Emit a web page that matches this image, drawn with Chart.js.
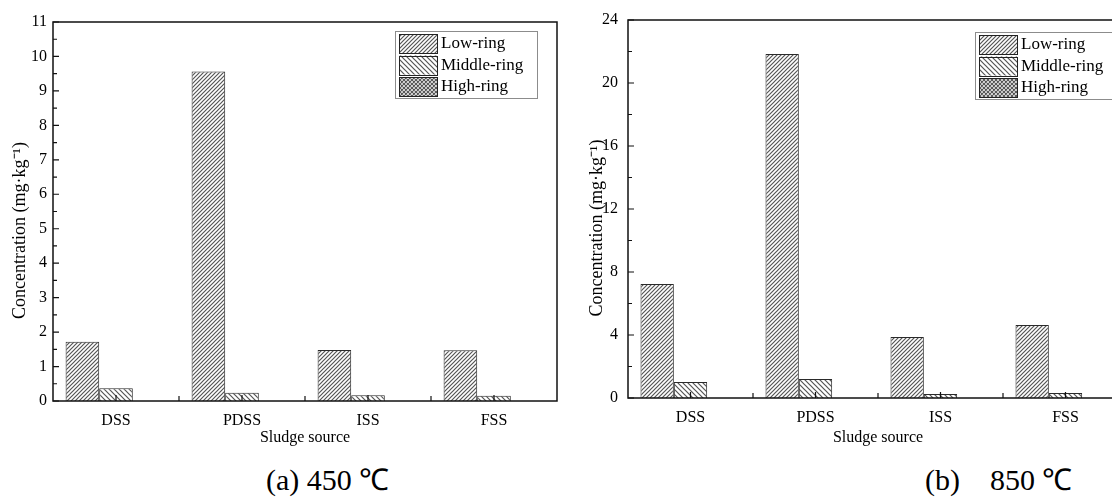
<!DOCTYPE html>
<html>
<head>
<meta charset="utf-8">
<script src="https://cdn.jsdelivr.net/npm/chart.js@4.4.1/dist/chart.umd.min.js"></script>
<style>
  html, body { margin: 0; padding: 0; background: #fff; width: 1112px; height: 500px; overflow: hidden; }
  #wrap { position: relative; width: 1112px; height: 500px; overflow: hidden; }
  canvas { position: absolute; top: 0; }
  #c450 { left: 0; }
  #c850 { left: 560px; }
  .cap { position: absolute; top: 458px; font-family: "Liberation Serif", serif; font-size: 30px; white-space: pre; color: #000; }
</style>
</head>
<body>
<div id="wrap">
  <canvas id="c450" width="560" height="450"></canvas>
  <canvas id="c850" width="570" height="450"></canvas>
  <div class="cap" style="left:266px">(a) 450 ℃</div>
  <div class="cap" style="left:925px">(b)    850 ℃</div>
</div>
<script>
// data
var sources = ['DSS', 'PDSS', 'ISS', 'FSS'];
var ringNames = ['Low-ring', 'Middle-ring', 'High-ring'];

var low450 = [1.72, 9.56, 1.48, 1.47];
var middle450 = [0.37, 0.24, 0.17, 0.15];
var high450 = [0, 0, 0, 0];
var yTicks450 = [0, 1, 2, 3, 4, 5, 6, 7, 8, 9, 10, 11];

var low850 = [7.24, 21.84, 3.87, 4.63];
var middle850 = [1.02, 1.20, 0.25, 0.32];
var high850 = [0, 0, 0, 0];
var yTicks850 = [0, 4, 8, 12, 16, 20, 24];

var yTitle = 'Concentration (mg·kg⁻¹)';
var xTitle = 'Sludge source';
var serif = '"Liberation Serif", "Times New Roman", serif';

// hatch fills
function hatch(step, dir) {
  var c = document.createElement('canvas');
  c.width = step; c.height = step;
  var g = c.getContext('2d');
  g.fillStyle = '#fff';
  g.fillRect(0, 0, step, step);
  g.strokeStyle = '#555';
  g.lineWidth = 1.2;
  g.beginPath();
  if (dir === '/' || dir === 'x') {
    g.moveTo(-1, step + 1); g.lineTo(step + 1, -1);
    g.moveTo(-1, 1); g.lineTo(1, -1);
    g.moveTo(step - 1, step + 1); g.lineTo(step + 1, step - 1);
  }
  if (dir === '\\' || dir === 'x') {
    g.moveTo(-1, -1); g.lineTo(step + 1, step + 1);
    g.moveTo(step - 1, -1); g.lineTo(step + 1, 1);
    g.moveTo(-1, step - 1); g.lineTo(1, step + 1);
  }
  g.stroke();
  return g.createPattern(c, 'repeat');
}
var fills = [hatch(4, '/'), hatch(5, '\\'), hatch(4, 'x')];

// box, inward ticks and the y title like the original plot
var framePlugin = {
  id: 'frame',
  afterDatasetsDraw: function (chart, args, opts) {
    var a = chart.chartArea, ctx = chart.ctx;
    var y = chart.scales.y, x = chart.scales.x;
    ctx.save();
    ctx.strokeStyle = '#111';
    ctx.lineWidth = 1.5;
    ctx.strokeRect(a.left, a.top, a.right - a.left, a.bottom - a.top);
    ctx.lineWidth = 1.2;
    ctx.beginPath();
    y.ticks.forEach(function (t, i) {
      var py = y.getPixelForValue(t.value);
      ctx.moveTo(a.left, py); ctx.lineTo(a.left + 6, py);
      if (i < y.ticks.length - 1) {
        var pm = y.getPixelForValue((t.value + y.ticks[i + 1].value) / 2);
        ctx.moveTo(a.left, pm); ctx.lineTo(a.left + 4, pm);
      }
    });
    for (var i = 0; i < x.ticks.length; i++) {
      var px = x.getPixelForTick(i);
      ctx.moveTo(px, a.bottom); ctx.lineTo(px, a.bottom - 6);
      if (i < x.ticks.length - 1) {
        var pb = (px + x.getPixelForTick(i + 1)) / 2;
        ctx.moveTo(pb, a.bottom); ctx.lineTo(pb, a.bottom - 5);
      }
    }
    ctx.stroke();

    // y axis title, sits a bit below the middle in the original
    ctx.translate(opts.titleX, (a.top + a.bottom) / 2 + opts.titleShift);
    ctx.rotate(-Math.PI / 2);
    ctx.fillStyle = '#000';
    ctx.font = '18px ' + serif;
    ctx.textAlign = 'center';
    ctx.textBaseline = 'middle';
    ctx.fillText(yTitle, 0, 0);
    ctx.restore();
  }
};

// legend box inside the plot
var boxLegend = {
  id: 'boxLegend',
  afterDraw: function (chart, args, opts) {
    var ctx = chart.ctx, a = chart.chartArea;
    var x0 = Math.round(a.left + opts.left), y0 = Math.round(a.top + opts.top);
    ctx.save();
    ctx.fillStyle = '#fff';
    ctx.fillRect(x0, y0, opts.width, opts.height);
    ctx.strokeStyle = '#8c8c8c';
    ctx.lineWidth = 1;
    ctx.strokeRect(x0 + 0.5, y0 + 0.5, opts.width, opts.height);
    chart.data.datasets.forEach(function (ds, i) {
      var sy = y0 + 3 + i * 21.5;
      ctx.fillStyle = ds.backgroundColor;
      ctx.fillRect(x0 + 4, sy, 38, 19);
      ctx.strokeStyle = '#222';
      ctx.strokeRect(x0 + 4.5, Math.round(sy) + 0.5, 38, 19);
      ctx.fillStyle = '#000';
      ctx.font = '17px ' + serif;
      ctx.textBaseline = 'middle';
      ctx.fillText(ds.label, x0 + 46, sy + 10);
    });
    ctx.restore();
  }
};

function ringChart(id, series, yTicks, box) {
  return new Chart(document.getElementById(id), {
    type: 'bar',
    data: {
      labels: sources,
      datasets: series.map(function (vals, i) {
        return {
          label: ringNames[i],
          data: vals,
          backgroundColor: fills[i],
          borderColor: '#2a2a2a',
          borderWidth: 1,
          borderSkipped: 'bottom',
          categoryPercentage: 0.8,
          barPercentage: 1.0
        };
      })
    },
    options: {
      responsive: false,
      animation: false,
      events: [],
      layout: { padding: { left: 0, top: box.top, right: box.right, bottom: 0 } },
      plugins: {
        legend: { display: false },
        tooltip: { enabled: false },
        boxLegend: box.legend,
        frame: { titleX: box.titleX, titleShift: 19 }
      },
      scales: {
        x: {
          grid: { display: false, drawTicks: false },
          border: { display: false },
          ticks: { color: '#000', font: { family: serif, size: 16 }, padding: 10 },
          title: { display: true, text: xTitle, color: '#000', font: { family: serif, size: 16 }, padding: { top: 0, bottom: 3 } },
          afterFit: function (s) { s.height = box.xHeight; }
        },
        y: {
          min: yTicks[0],
          max: yTicks[yTicks.length - 1],
          grid: { display: false, drawTicks: false },
          border: { display: false },
          ticks: { color: '#000', font: { family: serif, size: 16 }, padding: box.tickPad },
          afterBuildTicks: function (s) { s.ticks = yTicks.map(function (v) { return { value: v }; }); },
          afterFit: function (s) { s.width = box.yWidth; }
        }
      }
    },
    plugins: [framePlugin, boxLegend]
  });
}

ringChart('c450', [low450, middle450, high450], yTicks450, {
  top: 22, right: 3, xHeight: 49, yWidth: 53, tickPad: 6, titleX: 20,
  legend: { left: 342, top: 9, width: 142, height: 67 }
});
ringChart('c850', [low850, middle850, high850], yTicks850, {
  top: 20, right: 2, xHeight: 52, yWidth: 68, tickPad: 10, titleX: 37,
  legend: { left: 347, top: 12, width: 142, height: 67 }
});
</script>
</body>
</html>
